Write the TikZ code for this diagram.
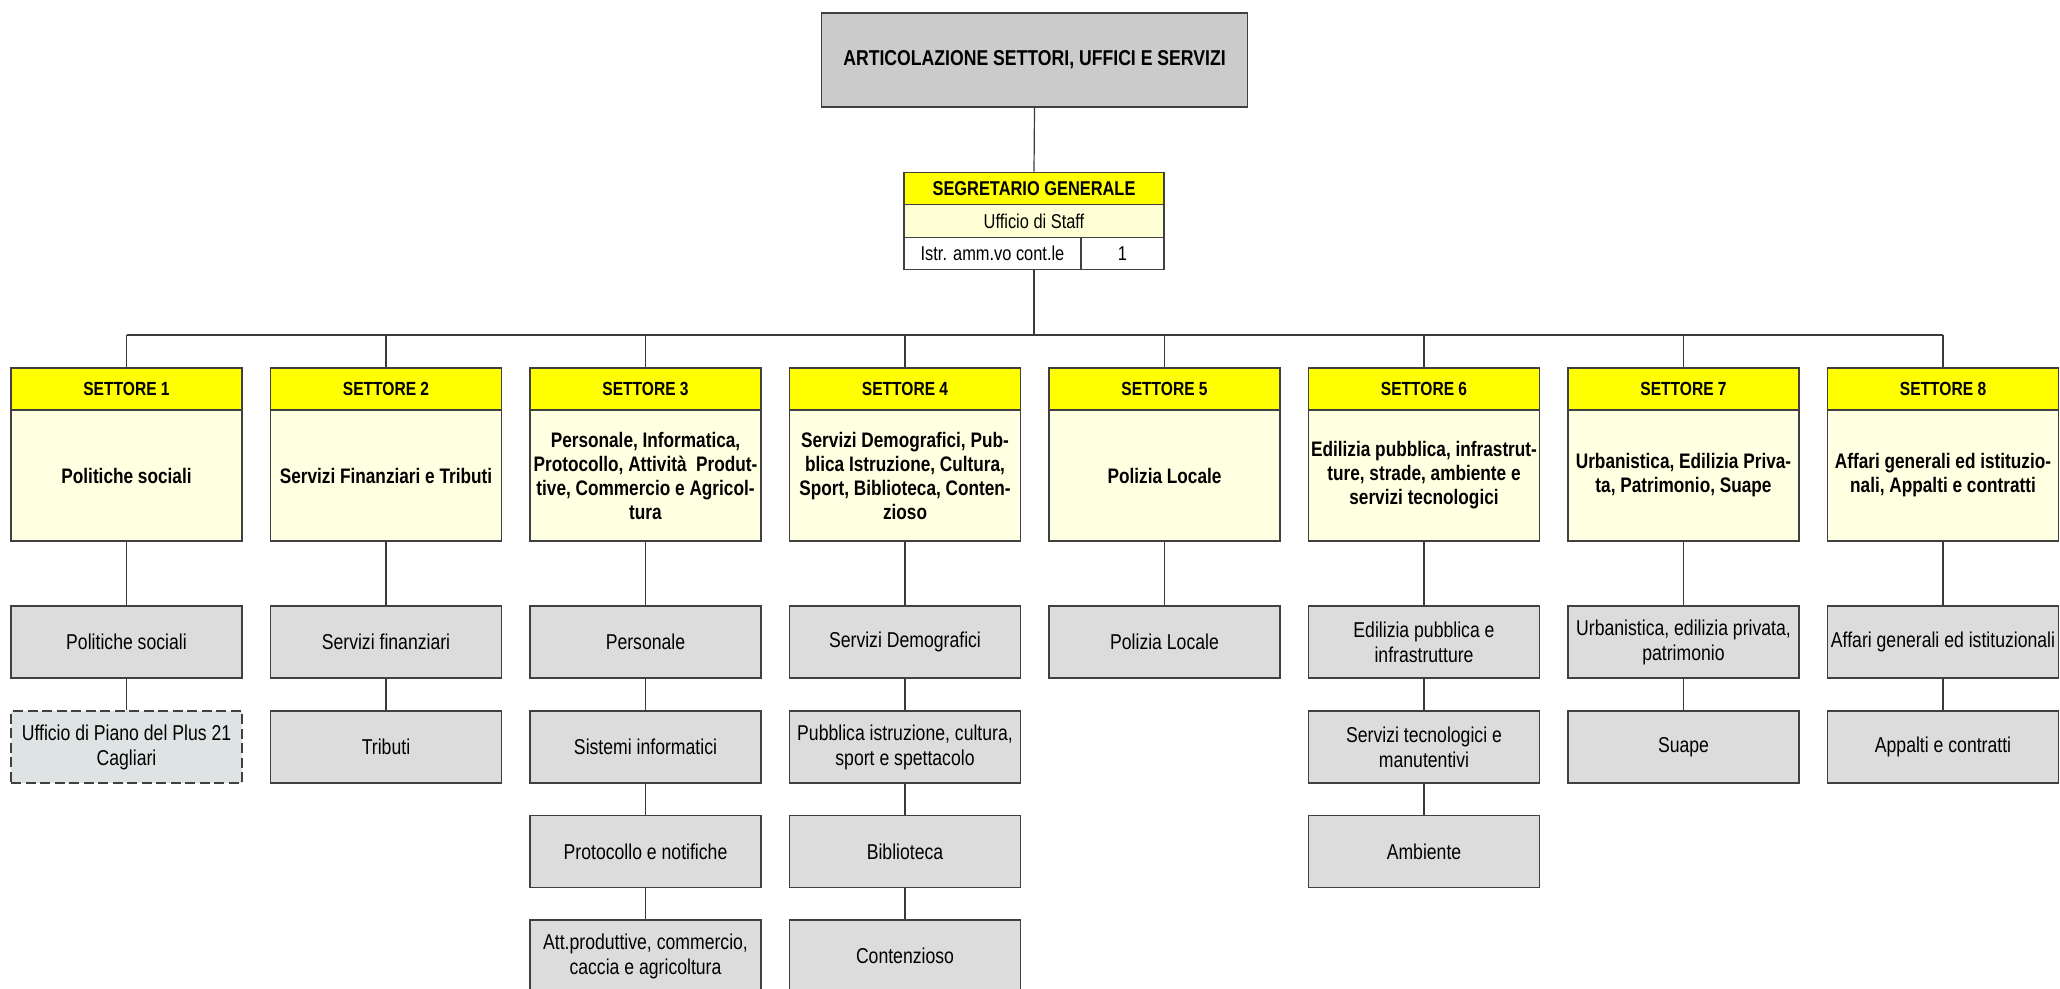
\documentclass[tikz,border=0pt]{standalone}
\usepackage{fontspec}
\setmainfont{Liberation Sans}[FakeStretch=0.82]
\definecolor{hdr}{HTML}{FFFF00}
\definecolor{bodyc}{HTML}{FFFFE1}
\definecolor{staffc}{HTML}{FFFFD6}
\definecolor{topgray}{HTML}{CBCBCB}
\definecolor{grayf}{HTML}{DCDCDC}
\definecolor{dashf}{HTML}{DEE4E4}
\definecolor{linec}{HTML}{3A3A3A}
\definecolor{boxline}{HTML}{404040}
\tikzset{
  conn/.style={draw=linec, line width=1.2pt},
  topbox/.style={draw=boxline, fill=topgray, line width=1.5pt, minimum width=426pt, minimum height=94pt, inner sep=0pt, font=\fontsize{21.5}{25}\selectfont\bfseries},
  sgrow/.style={draw=boxline, line width=1.3pt, minimum height=32.5pt, inner sep=0pt, font=\fontsize{20}{23}\selectfont},
  hdrbox/.style={draw=boxline, fill=hdr, line width=1.3pt, minimum width=231pt, minimum height=42pt, inner sep=0pt, font=\fontsize{19}{22}\selectfont\bfseries},
  bodybox/.style={draw=boxline, fill=bodyc, line width=1.3pt, minimum width=231pt, minimum height=131pt, inner sep=0pt, align=center, font=\fontsize{21}{24}\selectfont\bfseries},
  graybox/.style={draw=boxline, fill=grayf, line width=1.3pt, minimum width=231pt, minimum height=72pt, inner sep=0pt, align=center, font=\fontsize{21.5}{25}\selectfont},
  dashbox/.style={graybox, fill=dashf, dash pattern=on 10pt off 4.5pt},
}
\begin{document}
\begin{tikzpicture}[x=1pt,y=-1pt]
\clip (0,0) rectangle (2060,988);
\fill[white] (0,0) rectangle (2060,988);

% top
\node[topbox] (top) at (1034.5,60) {ARTICOLAZIONE SETTORI, UFFICI E SERVIZI};

% segretario generale
\node[sgrow, fill=hdr, minimum width=260pt, font=\fontsize{20}{23}\selectfont\bfseries] (sg1) at (1034,188.5) {SEGRETARIO GENERALE};
\node[sgrow, fill=staffc, minimum width=260pt] (sg2) at (1034,221) {Ufficio di Staff};
\node[sgrow, fill=white, minimum width=177pt] (sg3a) at (992.5,253.5) {Istr. amm.vo cont.le};
\node[sgrow, fill=white, minimum width=83pt] (sg3b) at (1122.5,253.5) {1};

\draw[conn] (top.south) -- (sg1.north);
\coordinate (bus) at (1034,335);
\draw[conn] (sg2.south |- sg3a.south) -- (bus);

% settori headers and bodies
\node[hdrbox] (h1) at (126.5,389) {SETTORE 1};
\node[hdrbox] (h2) at (386,389) {SETTORE 2};
\node[hdrbox] (h3) at (645.5,389) {SETTORE 3};
\node[hdrbox] (h4) at (905,389) {SETTORE 4};
\node[hdrbox] (h5) at (1164.5,389) {SETTORE 5};
\node[hdrbox] (h6) at (1424,389) {SETTORE 6};
\node[hdrbox] (h7) at (1683.5,389) {SETTORE 7};
\node[hdrbox] (h8) at (1943,389) {SETTORE 8};

\node[bodybox] (b1) at (126.5,475.5) {Politiche sociali};
\node[bodybox] (b2) at (386,475.5) {Servizi Finanziari e Tributi};
\node[bodybox] (b3) at (645.5,475.5) {Personale, Informatica,\\Protocollo, Attività\ \ Produt-\\tive, Commercio e Agricol-\\tura};
\node[bodybox] (b4) at (905,475.5) {Servizi Demografici, Pub-\\blica Istruzione, Cultura,\\Sport, Biblioteca, Conten-\\zioso};
\node[bodybox] (b5) at (1164.5,475.5) {Polizia Locale};
\node[bodybox] (b6) at (1424,475.5) {Edilizia pubblica, infrastrut-\\ture, strade, ambiente e\\servizi tecnologici};
\node[bodybox] (b7) at (1683.5,475.5) {Urbanistica, Edilizia Priva-\\ta, Patrimonio, Suape};
\node[bodybox] (b8) at (1943,475.5) {Affari generali ed istituzio-\\nali, Appalti e contratti};

\draw[conn] (h1.north |- bus) -- (h8.north |- bus);
\foreach \i in {1,...,8} {
  \draw[conn] (h\i.north |- bus) -- (h\i.north);
}

% uffici
\node[graybox] (g11) at (126.5,642) {Politiche sociali};
\node[dashbox] (g12) at (126.5,747) {Ufficio di Piano del Plus 21\\Cagliari};

\node[graybox] (g21) at (386,642) {Servizi finanziari};
\node[graybox] (g22) at (386,747) {Tributi};

\node[graybox] (g31) at (645.5,642) {Personale};
\node[graybox] (g32) at (645.5,747) {Sistemi informatici};
\node[graybox] (g33) at (645.5,851.5) {Protocollo e notifiche};
\node[graybox] (g34) at (645.5,956) {Att.produttive, commercio,\\caccia e agricoltura};

\node[graybox] (g41) at (905,642) {Servizi Demografici};
\node[graybox] (g42) at (905,747) {Pubblica istruzione, cultura,\\sport e spettacolo};
\node[graybox] (g43) at (905,851.5) {Biblioteca};
\node[graybox] (g44) at (905,956) {Contenzioso};

\node[graybox] (g51) at (1164.5,642) {Polizia Locale};

\node[graybox] (g61) at (1424,642) {Edilizia pubblica e\\infrastrutture};
\node[graybox] (g62) at (1424,747) {Servizi tecnologici e\\manutentivi};
\node[graybox] (g63) at (1424,851.5) {Ambiente};

\node[graybox] (g71) at (1683.5,642) {Urbanistica, edilizia privata,\\patrimonio};
\node[graybox] (g72) at (1683.5,747) {Suape};

\node[graybox] (g81) at (1943,642) {Affari generali ed istituzionali};
\node[graybox] (g82) at (1943,747) {Appalti e contratti};

% connectors
\foreach \i in {1,...,8} {
  \draw[conn] (b\i.south) -- (g\i1.north);
}
\draw[conn] (g11.south) -- (g12.north);
\draw[conn] (g21.south) -- (g22.north);
\draw[conn] (g31.south) -- (g32.north);
\draw[conn] (g32.south) -- (g33.north);
\draw[conn] (g33.south) -- (g34.north);
\draw[conn] (g41.south) -- (g42.north);
\draw[conn] (g42.south) -- (g43.north);
\draw[conn] (g43.south) -- (g44.north);
\draw[conn] (g61.south) -- (g62.north);
\draw[conn] (g62.south) -- (g63.north);
\draw[conn] (g71.south) -- (g72.north);
\draw[conn] (g81.south) -- (g82.north);
\end{tikzpicture}
\end{document}
